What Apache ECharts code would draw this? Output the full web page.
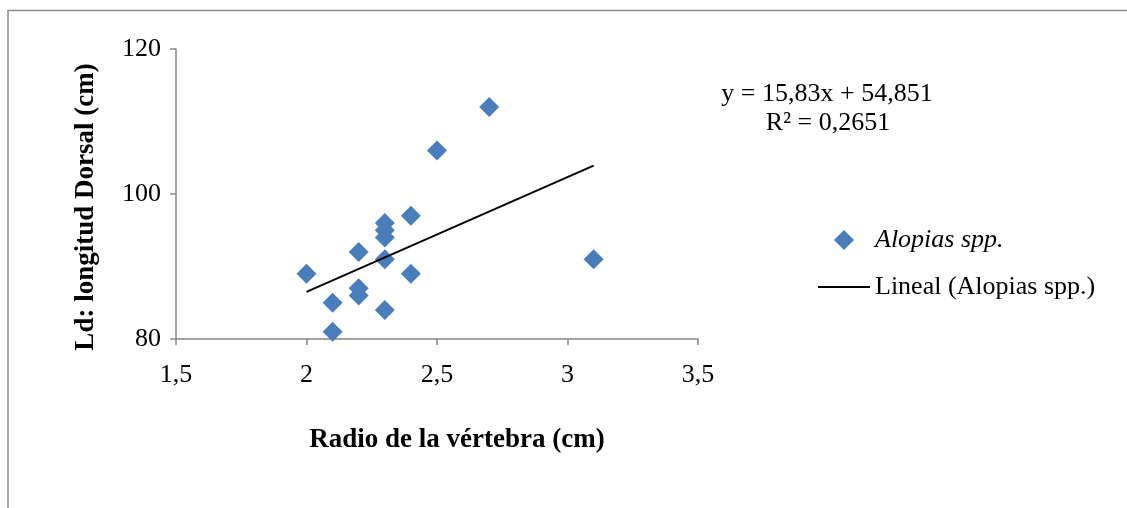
<!DOCTYPE html>
<html>
<head>
<meta charset="utf-8">
<script src="https://cdn.jsdelivr.net/npm/echarts@6/dist/echarts.min.js"></script>
<style>
html,body{margin:0;padding:0;background:#fff;}
#chart{width:1127px;height:508px;}
</style>
</head>
<body>
<div id="chart"></div>
<script>
// Data
const seriesName = 'Alopias spp.';
const trendName = 'Lineal (Alopias spp.)';
const xVals = [2.0, 2.1, 2.1, 2.2, 2.2, 2.2, 2.3, 2.3, 2.3, 2.3, 2.3, 2.4, 2.4, 2.5, 2.7, 3.1];
const yVals = [89, 85, 81, 92, 87, 86, 96, 95, 94, 91, 84, 97, 89, 106, 112, 91];
// Trendline endpoints (from y = 15,83x + 54,851 over the data range)
const trendX = [2.0, 3.1];
const trendY = [86.511, 103.924];
const xTickMin = 1.5, xTickMax = 3.5, xTickStep = 0.5;
const yTickMin = 80, yTickMax = 120, yTickStep = 20;
const equationLines = ['y = 15,83x + 54,851', 'R² = 0,2651'];
const xTitle = 'Radio de la vértebra (cm)';
const yTitle = 'Ld: longitud Dorsal (cm)';

const FONT = '"Liberation Serif", "DejaVu Serif", serif';
const AXIS_COLOR = '#868686';
const BLUE = '#4A7EBB';

const scatterData = xVals.map((x, i) => [x, yVals[i]]);
const trendData = trendX.map((x, i) => [x, trendY[i]]);

const chart = echarts.init(document.getElementById('chart'), null, {renderer: 'canvas'});
chart.setOption({
  animation: false,
  backgroundColor: '#fff',
  grid: {left: 176, right: 429, top: 49, bottom: 169, containLabel: false},
  xAxis: {
    type: 'value', min: xTickMin, max: xTickMax, interval: xTickStep,
    axisLine: {show: true, lineStyle: {color: AXIS_COLOR, width: 1.5}},
    axisTick: {show: true, inside: false, length: 6, lineStyle: {color: AXIS_COLOR, width: 1.5}},
    splitLine: {show: false},
    axisLabel: {
      margin: 23, color: '#000', fontFamily: FONT, fontSize: 26,
      formatter: v => String(v).replace('.', ',')
    }
  },
  yAxis: {
    type: 'value', min: yTickMin, max: yTickMax, interval: yTickStep,
    axisLine: {show: true, lineStyle: {color: AXIS_COLOR, width: 1.5}},
    axisTick: {show: true, inside: false, length: 6, lineStyle: {color: AXIS_COLOR, width: 1.5}},
    splitLine: {show: false},
    axisLabel: {margin: 15, color: '#000', fontFamily: FONT, fontSize: 26}
  },
  legend: {
    orient: 'vertical', left: 818, top: 227, padding: 0,
    itemWidth: 52, itemHeight: 20, itemGap: 21,
    symbolKeepAspect: true,
    data: [
      {name: seriesName, icon: 'path://M0,10 L10,0 L20,10 L10,20 Z'},
      {name: trendName, icon: 'path://M0,0 L52,0 L52,2 L0,2 Z', itemStyle: {color: '#000'}}
    ],
    formatter: name => name === seriesName ? '{i|' + name + '}' : '{n|' + name + '}',
    textStyle: {
      color: '#000', fontFamily: FONT, fontSize: 26, lineHeight: 26,
      rich: {
        i: {fontStyle: 'italic', fontFamily: FONT, fontSize: 26, lineHeight: 26, color: '#000'},
        n: {fontFamily: FONT, fontSize: 26, lineHeight: 26, color: '#000'}
      }
    }
  },
  series: [
    {
      name: seriesName, type: 'scatter', data: scatterData,
      symbol: 'diamond', symbolSize: 20,
      itemStyle: {color: BLUE, opacity: 1}
    },
    {
      name: trendName, type: 'line', data: trendData,
      symbol: 'none', showSymbol: false,
      lineStyle: {color: '#000', width: 2},
      itemStyle: {color: '#000'}
    }
  ],
  graphic: [
    {
      type: 'rect', silent: true, z: -1,
      shape: {x: 8, y: 10.5, width: 1300, height: 700},
      style: {fill: 'none', stroke: '#8a8a8a', lineWidth: 1.5}
    },
    {
      type: 'text', silent: true,
      x: 827, y: 94,
      style: {text: equationLines[0], font: '26px ' + FONT, fill: '#000', textAlign: 'center', textVerticalAlign: 'middle'}
    },
    {
      type: 'text', silent: true,
      x: 828, y: 123,
      style: {text: equationLines[1], font: '26px ' + FONT, fill: '#000', textAlign: 'center', textVerticalAlign: 'middle'}
    },
    {
      type: 'text', silent: true,
      x: 457, y: 440,
      style: {text: xTitle, font: 'bold 27px ' + FONT, fill: '#000', textAlign: 'center', textVerticalAlign: 'middle'}
    },
    {
      type: 'text', silent: true,
      x: 86, y: 207, rotation: Math.PI / 2,
      style: {text: yTitle, font: 'bold 27px ' + FONT, fill: '#000', textAlign: 'center', textVerticalAlign: 'middle'}
    }
  ]
});
</script>
</body>
</html>
